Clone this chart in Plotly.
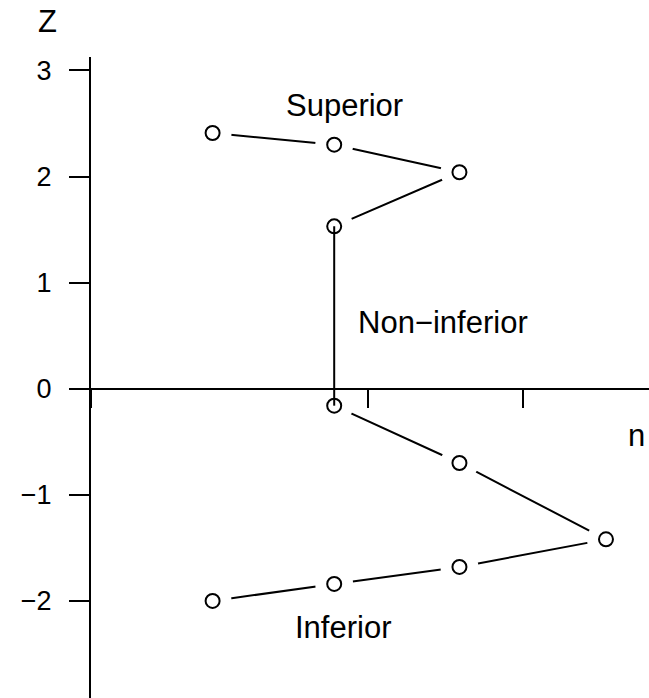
"""Z statistic against sample size n: superior / non-inferior / inferior paths."""

import plotly.graph_objects as go

# values
upper_n = [20, 40, 60.6, 40]
upper_z = [2.41, 2.30, 2.04, 1.53]

lower_n = [40, 60.6, 84.7, 60.6, 40, 20]
lower_z = [-0.16, -0.70, -1.42, -1.68, -1.84, -2.00]

# vertical link between the last upper point and the first lower point
link_n = [upper_n[-1], lower_n[0]]
link_z = [upper_z[-1], lower_z[0]]

n_ticks = [0, 45.6, 71]
z_ticks = [-2, -1, 0, 1, 2, 3]

FONT = "Liberation Sans, Arial, sans-serif"
W, H = 649, 698

all_n = upper_n + lower_n
all_z = upper_z + lower_z

fig = go.Figure()

# connecting lines (R type="b": gaps are made by white discs drawn on top)
fig.add_trace(go.Scatter(
    x=upper_n + [None] + lower_n,
    y=upper_z + [None] + lower_z,
    mode="lines",
    line=dict(color="black", width=2),
    hoverinfo="skip",
))
fig.add_trace(go.Scatter(
    x=all_n, y=all_z,
    mode="markers",
    marker=dict(symbol="circle", size=38, color="white", line=dict(width=0)),
    hoverinfo="skip",
))
fig.add_trace(go.Scatter(
    x=link_n, y=link_z,
    mode="lines",
    line=dict(color="black", width=2),
    hoverinfo="skip",
))
fig.add_trace(go.Scatter(
    x=all_n, y=all_z,
    mode="markers",
    marker=dict(symbol="circle-open", size=14, color="black", line=dict(width=2)),
))

fig.update_layout(
    width=W,
    height=H,
    margin=dict(l=0, r=0, t=0, b=0),
    paper_bgcolor="white",
    plot_bgcolor="white",
    showlegend=False,
    font=dict(family=FONT, color="black"),
    xaxis=dict(
        domain=[91 / W, 1],
        range=[0, (W - 91) / 6.08],
        anchor="free",
        position=1 - 388.7 / H,
        showline=True, linecolor="black", linewidth=2,
        ticks="outside", ticklen=18, tickwidth=2, tickcolor="black",
        tickvals=n_ticks,
        showticklabels=False,
        showgrid=False, zeroline=False,
    ),
    yaxis=dict(
        domain=[0, 1 - 56.7 / H],
        range=[(388.7 - H) / 106.1, (388.7 - 56.7) / 106.1],
        anchor="x",
        showline=True, linecolor="black", linewidth=2,
        ticks="outside", ticklen=20, tickwidth=2, tickcolor="black",
        tickvals=z_ticks,
        tickfont=dict(size=27),
        ticklabelstandoff=12,
        showgrid=False, zeroline=False,
    ),
)

label_font = dict(family=FONT, size=31, color="black")
fig.add_annotation(x=41.7, y=2.67, text="Superior", showarrow=False,
                   xanchor="center", yanchor="middle", font=label_font)
fig.add_annotation(x=57.9, y=0.62, text="Non\u2212inferior", showarrow=False,
                   xanchor="center", yanchor="middle", font=label_font)
fig.add_annotation(x=41.5, y=-2.255, text="Inferior", showarrow=False,
                   xanchor="center", yanchor="middle", font=label_font)
fig.add_annotation(x=91.5, y=-0.44, text="n", showarrow=False,
                   xanchor="right", yanchor="middle", font=label_font)
fig.add_annotation(x=47 / W, y=1 - 21 / H, xref="paper", yref="paper",
                   text="Z", showarrow=False,
                   xanchor="center", yanchor="middle", font=label_font)

# drop the default page margin so the figure sits at the window's corner
fig.write_html(
    "out.html",
    config={"displayModeBar": False},
    post_script="document.body.style.margin='0';",
)
